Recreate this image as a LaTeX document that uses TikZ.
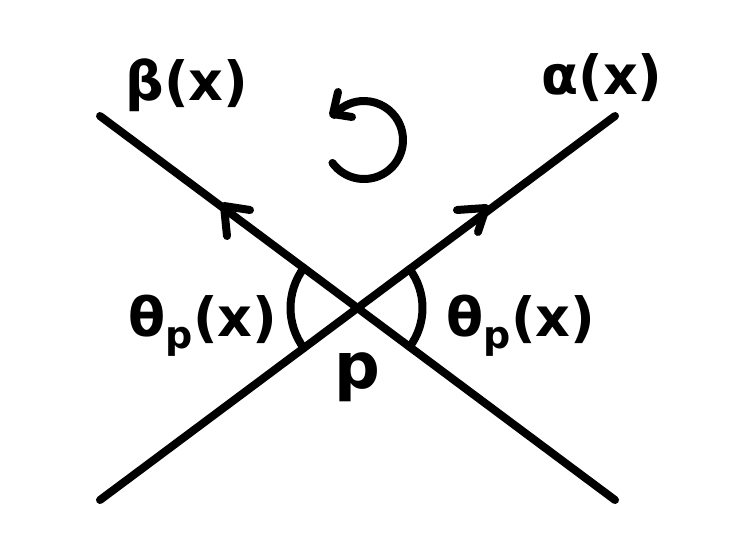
\documentclass[tikz,border=0pt]{standalone}
\usepackage{fontspec}
\setmainfont{DejaVu Sans}
\newcommand{\mysub}[1]{\raisebox{-12pt}{\fontsize{38}{40}\selectfont #1}}
\begin{document}
\begin{tikzpicture}[x=1pt,y=-1pt,
  stroke/.style={line width=8pt,line cap=round,line join=round},
  lab/.style={font=\bfseries\fontsize{54}{60}\selectfont,inner sep=0pt,anchor=base}]
\useasboundingbox (0,0) rectangle (733,550);
% line ends
\coordinate (a1) at (100,500);
\coordinate (a2) at (615,116);
\coordinate (b1) at (615,500);
\coordinate (b2) at (100,116);
\coordinate (p) at (357.5,308);
\draw[stroke] (a1) -- (a2);
\draw[stroke] (b1) -- (b2);
% arrowheads on lines
\coordinate (ta) at (486,208);
\coordinate (tb) at (224,206);
\draw[stroke] (457,210) -- (ta) -- (478,232);
\draw[stroke] (250,210) -- (tb) -- (227,236);
% angle arcs
\draw[stroke] (p) ++(143.3:67) arc[start angle=143.3,end angle=216.7,radius=67];
\draw[stroke] (p) ++(-36.7:65) arc[start angle=-36.7,end angle=36.7,radius=65];
% rotation arrow
\coordinate (c) at (364,140);
\draw[stroke] (c) ++(144:39) arc[start angle=144,end angle=-140,radius=39];
\coordinate (tc) at (333,114);
\draw[stroke] (338,92) -- (tc) -- (352,117);
% labels
\node[lab] (lb) at (187,100) {β(x)};
\node[lab] (la) at (602,94) {α(x)};
\node[lab] (lt1) at (203,336) {θ\mysub{p}(x)};
\node[lab] (lt2) at (521,336) {θ\mysub{p}(x)};
\node[lab,font=\bfseries\fontsize{64}{70}\selectfont] (lp) at (357,388) {p};
\end{tikzpicture}
\end{document}
